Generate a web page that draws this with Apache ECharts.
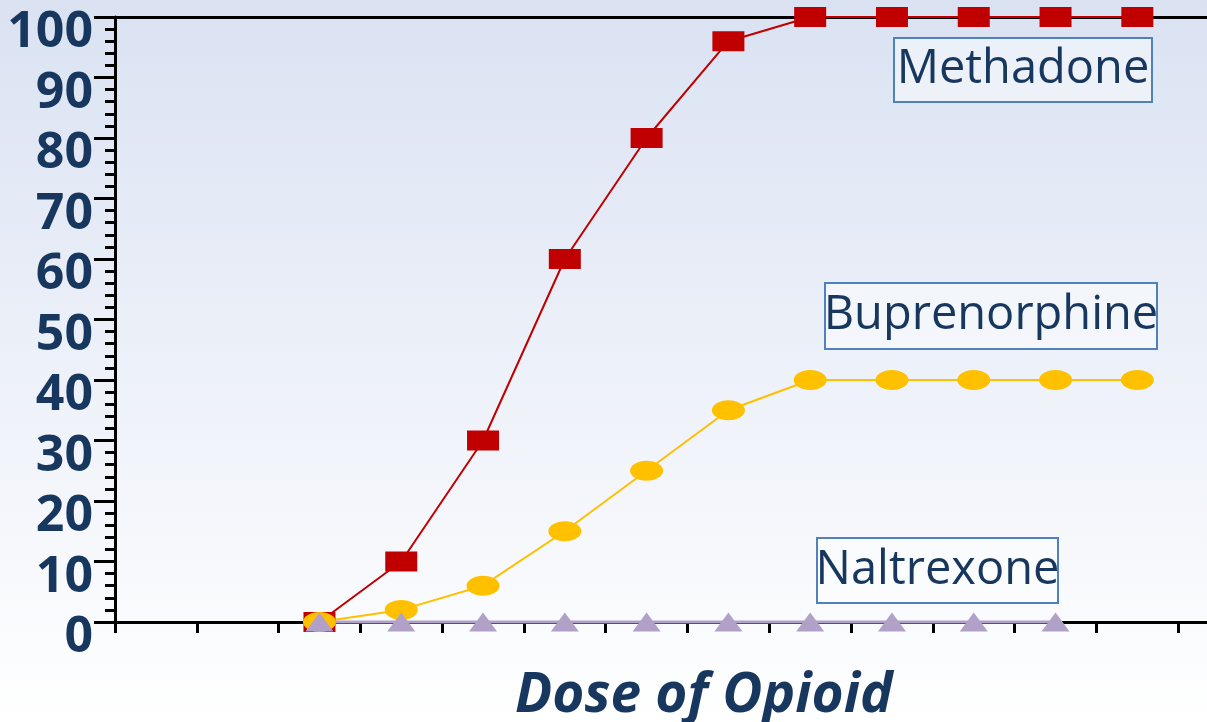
<!DOCTYPE html>
<html>
<head>
<meta charset="utf-8">
<script src="https://cdn.jsdelivr.net/npm/echarts@6/dist/echarts.min.js"></script>
<style>
html,body{margin:0;padding:0;}
#chart{width:1207px;height:722px;}
</style>
</head>
<body>
<div id="chart"></div>
<script>
const categories = ['1','2','3','4','5','6','7','8','9','10','11','12','13','14'];
const methadone = [null,null,0,10,30,60,80,96,100,100,100,100,100,null];
const buprenorphine = [null,null,0,2,6,15,25,35,40,40,40,40,40,null];
const naltrexone = [null,null,0,0,0,0,0,0,0,0,0,0,null,null];
const seriesNames = ['Methadone','Buprenorphine','Naltrexone'];
const yTicks = [0,10,20,30,40,50,60,70,80,90,100];

const textColor = '#17375E';
const chart = echarts.init(document.getElementById('chart'));
const ellipse = 'path://M0,10 A10,10 0 1,1 20,10 A10,10 0 1,1 0,10 Z';

function labelBox(x, y, w, h, text) {
  return {
    type: 'group',
    children: [
      {type:'rect', shape:{x:x, y:y, width:w, height:h}, style:{fill:'rgba(255,255,255,0.45)', stroke:'#4F81BD', lineWidth:2}, z:10},
      {type:'text', x:x + w/2, y:y + h/2, style:{text:text, font:'47px "Open Sans"', fill:textColor, align:'center', verticalAlign:'middle'}, z:11}
    ]
  };
}

chart.setOption({
  animation: false,
  backgroundColor: {
    type:'linear', x:0, y:0, x2:0, y2:1,
    colorStops:[{offset:0,color:'#DAE2F2'},{offset:1,color:'#FFFFFF'}]
  },
  title: {
    text: 'Dose of Opioid',
    left: 510, top: 664,
    textStyle: {color:textColor, fontFamily:'Open Sans', fontWeight:'bold', fontStyle:'italic', fontSize:55}
  },
  grid: {left:115, top:17, width:1145, height:605, containLabel:false, outerBoundsMode:'none'},
  xAxis: [
    {
      type:'category', data:categories, boundaryGap:true, position:'bottom',
      axisLine:{lineStyle:{color:'#000', width:3}},
      axisTick:{show:true, inside:false, length:11, lineStyle:{color:'#000', width:3}},
      axisLabel:{show:false}, splitLine:{show:false}
    },
    {
      type:'category', data:categories, boundaryGap:true, position:'top',
      axisLine:{lineStyle:{color:'#000', width:3}},
      axisTick:{show:false}, axisLabel:{show:false}, splitLine:{show:false}
    }
  ],
  yAxis: {
    type:'value', min:yTicks[0], max:yTicks[yTicks.length-1], interval:10,
    axisLine:{show:true, lineStyle:{color:'#000', width:3}},
    axisTick:{show:true, length:21, lineStyle:{color:'#000', width:3}},
    minorTick:{show:true, splitNumber:5, length:10, lineStyle:{color:'#000', width:3}},
    splitLine:{show:false},
    axisLabel:{
      margin:22, color:textColor, fontFamily:'Open Sans', fontWeight:'bold', fontSize:50,
      verticalAlign:'top', lineHeight:32
    }
  },
  series: [
    {
      name:seriesNames[0], type:'line', data:methadone, clip:false,
      symbol:'rect', symbolSize:[32,20],
      lineStyle:{color:'#C00000', width:2},
      itemStyle:{color:'#C00000'}
    },
    {
      name:seriesNames[1], type:'line', data:buprenorphine, clip:false,
      symbol:ellipse, symbolSize:[33,20],
      lineStyle:{color:'#FFC000', width:2},
      itemStyle:{color:'#FFC000'}
    },
    {
      name:seriesNames[2], type:'line', data:naltrexone, clip:false,
      symbol:'triangle', symbolSize:[28,19],
      lineStyle:{color:'#B1A0C7', width:3},
      itemStyle:{color:'#B1A0C7'}
    }
  ],
  graphic: [
    labelBox(894, 38, 258, 64, seriesNames[0]),
    labelBox(825, 283, 332, 66, seriesNames[1]),
    labelBox(817, 538, 241, 65, seriesNames[2])
  ]
});
</script>
</body>
</html>
